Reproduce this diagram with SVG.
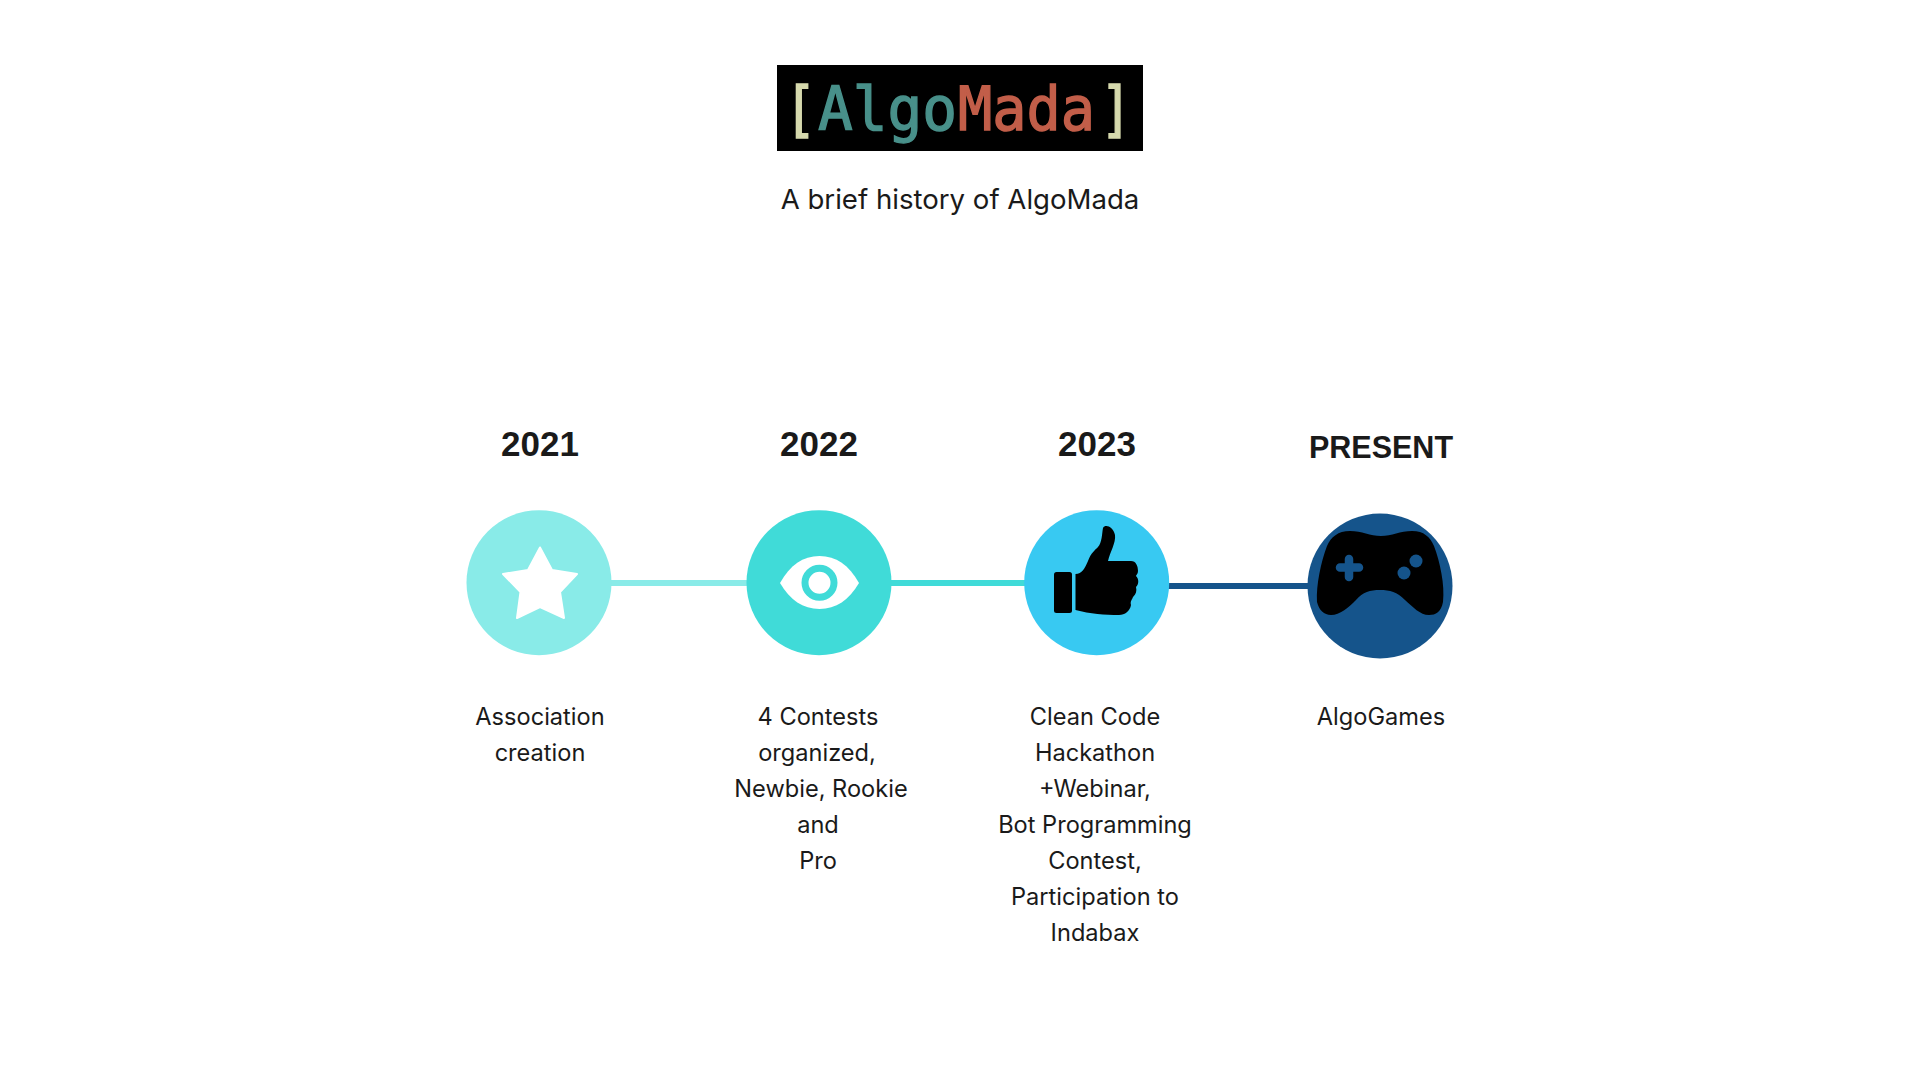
<svg xmlns="http://www.w3.org/2000/svg" width="1920" height="1080" viewBox="0 0 1920 1080">
<style>
.h{font-family:"Liberation Sans",Arial,sans-serif;font-weight:700;font-size:35px;fill:#1a1a1a;text-anchor:middle}
.d{font-family:Inter,"Noto Sans",sans-serif;font-size:23.6px;fill:#1a1a1a;text-anchor:middle}
.l{font-family:"DejaVu Sans Mono","Liberation Mono",monospace;font-size:60px;stroke-width:1.4px}
</style>
<rect width="1920" height="1080" fill="#fff"/>
<g id="logo">
<rect x="777" y="65" width="366" height="86" fill="#000"/>
<text class="l" x="784" y="130" fill="#d6d9ad" stroke="#d6d9ad" textLength="33" lengthAdjust="spacingAndGlyphs">[</text>
<text class="l" x="818" y="130" fill="#48908a" stroke="#48908a" textLength="139" lengthAdjust="spacingAndGlyphs">Algo</text>
<text class="l" x="958" y="130" fill="#c25e49" stroke="#c25e49" textLength="137" lengthAdjust="spacingAndGlyphs">Mada</text>
<text class="l" x="1100" y="130" fill="#d6d9ad" stroke="#d6d9ad" textLength="32" lengthAdjust="spacingAndGlyphs">]</text>
</g>
<text id="subtitle" x="960" y="209" font-family="Inter,'Noto Sans',sans-serif" font-size="27.6" fill="#1a1a1a" text-anchor="middle">A brief history of AlgoMada</text>
<g id="connectors" stroke-width="6" fill="none">
<line x1="610" y1="583" x2="748" y2="583" stroke="#89ebe8"/>
<line x1="890" y1="583" x2="1026" y2="583" stroke="#40dbd8"/>
<line x1="1168" y1="586" x2="1309" y2="586" stroke="#15548b"/>
</g>
<g id="node-2021">
<text class="h" x="540" y="456">2021</text>
<circle cx="539" cy="582.7" r="72.5" fill="#89ebe8"/>
<path d="M540 547.500 L552 570 L577 574 L560 592 L564 618 L540 607 L517 618 L520.500 592 L503 574 L528 570Z" fill="#fff" stroke="#fff" stroke-width="2" stroke-linejoin="round"/>
<text class="d" x="540" y="725">Association</text>
<text class="d" x="540" y="761">creation</text>
</g>
<g id="node-2022">
<text class="h" x="819" y="456">2022</text>
<circle cx="819" cy="582.7" r="72.5" fill="#40dbd8"/>
<path d="M780 583 C790 565 803 556 819.500 556 C836 556 849 565 859 583 C849 600 836 609 819.500 609 C803 609 790 600 780 583Z" fill="#fff"/>
<circle cx="819.500" cy="582.700" r="14.500" fill="#fff" stroke="#40dbd8" stroke-width="7"/>
<text class="d" x="818" y="725">4 Contests</text>
<text class="d" x="817" y="761">organized,</text>
<text class="d" x="821" y="797">Newbie, Rookie</text>
<text class="d" x="818" y="833">and</text>
<text class="d" x="818" y="869">Pro</text>
</g>
<g id="node-2023">
<text class="h" x="1097" y="456">2023</text>
<circle cx="1096.700" cy="582.700" r="72.5" fill="#38c9f2"/>
<rect x="1054" y="572" width="18" height="41" rx="2.500" fill="#000"/>
<path d="M1075.500 574 C1082 574 1085 568 1088 561 C1091 553 1095 550 1098 547 C1102 543 1102 533 1103 528 C1105 524 1113 526 1115 535 C1116 543 1110 552 1108 561 L1131 561 C1136 561 1138 566 1138 571 C1138 574 1136 575 1136 576 C1139 579 1139 584 1136 587 C1137 591 1136 594 1133 597 C1132 600 1130 601 1131 605 C1130 611 1125 615 1119 615 C1105 615 1090 614 1075.500 610Z" fill="#000"/>
<text class="d" x="1095" y="725">Clean Code</text>
<text class="d" x="1095" y="761">Hackathon</text>
<text class="d" x="1095" y="797">+Webinar,</text>
<text class="d" x="1095" y="833">Bot Programming</text>
<text class="d" x="1095" y="869">Contest,</text>
<text class="d" x="1095" y="905">Participation to</text>
<text class="d" x="1095" y="941">Indabax</text>
</g>
<g id="node-present">
<text class="h" x="1381" y="458" style="font-size:30.5px">PRESENT</text>
<circle cx="1380" cy="586" r="72.5" fill="#15548b"/>
<path d="M1350 531 C1362 531 1370 536 1381 536 C1392 536 1400 531 1412 531 C1424 531 1430 537 1434 546 C1440 562 1445 585 1443 602 C1441 612 1436 615 1429 615 C1420 615 1413 607 1405 600 C1397 592 1390 590 1380 590 C1370 590 1363 592 1356 600 C1348 608 1340 615 1331 615 C1324 615 1319 610 1317 602 C1316 585 1321 562 1327 546 C1331 537 1338 531 1350 531Z" fill="#000"/>
<path d="M1349 559 V577 M1340 567.500 H1359" stroke="#15548b" stroke-width="8.500" stroke-linecap="round" fill="none"/>
<circle cx="1416" cy="561" r="6.500" fill="#15548b"/>
<circle cx="1404" cy="573" r="6.500" fill="#15548b"/>
<text class="d" x="1381" y="725">AlgoGames</text>
</g>
</svg>
